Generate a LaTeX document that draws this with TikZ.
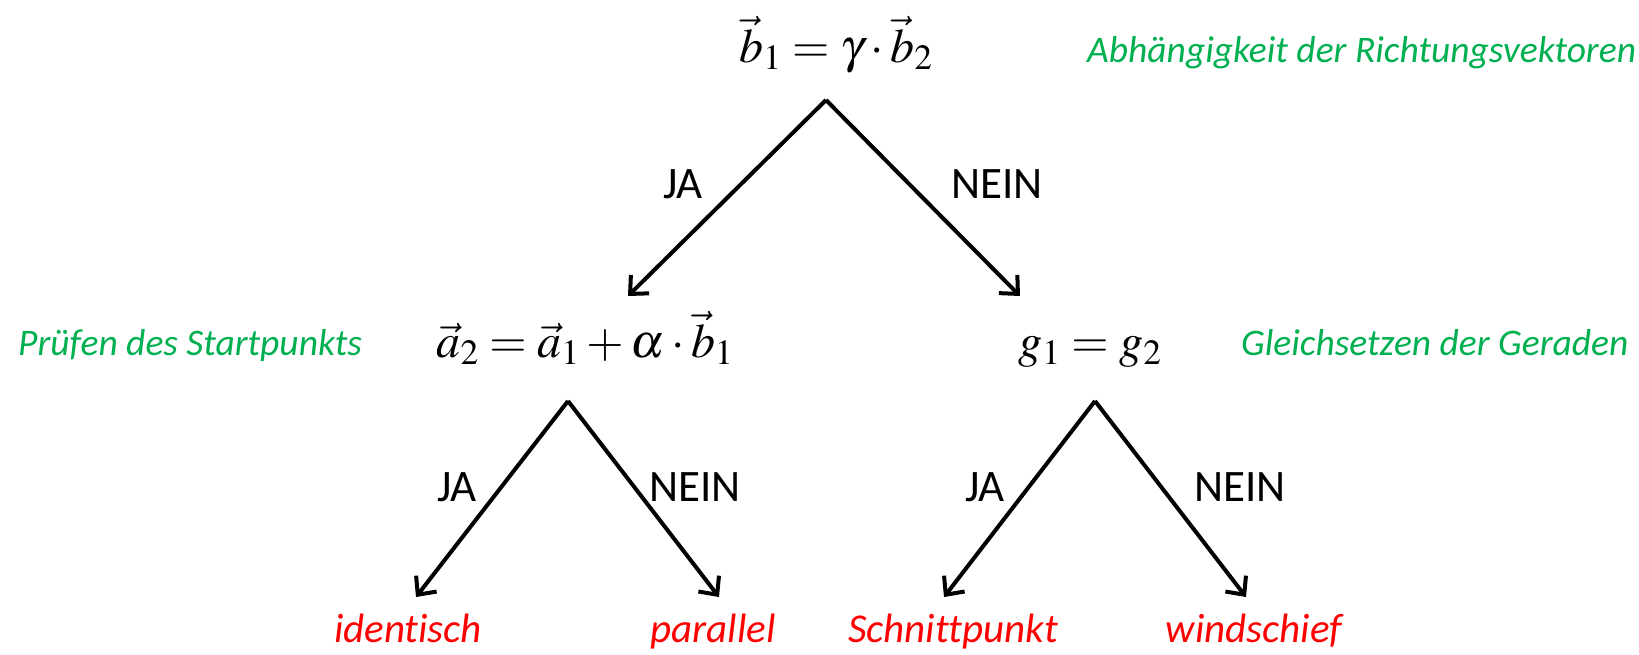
\documentclass[tikz,border=0pt]{standalone}
\usepackage{mathptmx}
\usepackage{fontspec}
\setmainfont{Carlito}[Ligatures=NoCommon]
\usetikzlibrary{arrows.meta}
\definecolor{ggreen}{HTML}{00B050}
\definecolor{rred}{HTML}{FF0000}

\begin{document}
\begin{tikzpicture}[x=1pt,y=-1pt,>={Straight Barb[length=14pt,width=26pt]}]
\tikzset{formula/.style={inner sep=0pt,anchor=base,font=\fontsize{48}{58}\selectfont},
  note/.style={inner sep=0pt,anchor=base west,text=ggreen,font=\fontsize{37.5}{45}\selectfont\itshape},
  result/.style={inner sep=0pt,anchor=base,text=rred,font=\fontsize{41}{50}\selectfont\itshape},
  answer/.style={inner sep=0pt,anchor=base,font=\fontsize{45}{54}\selectfont},
  branch/.style={->,line width=4pt}}
\useasboundingbox (0,0) rectangle (1639,654);
% formulas and notes
\node[formula] (dir) at (836,62) {$\vec{b}_1=\gamma\cdot\vec{b}_2$};
\node[note] (dirnote) at (1087,62) {Abhängigkeit der Richtungsvektoren};
\node[formula] (start) at (585,357) {$\vec{a}_2=\vec{a}_1+\alpha\cdot\vec{b}_1$};
\node[note] (startnote) at (18,355) {Prüfen des Startpunkts};
\node[formula] (equal) at (1090,357) {$g_1=g_2$};
\node[note] (equalnote) at (1241,355) {Gleichsetzen der Geraden};
% results
\node[result] (ident) at (408,642) {identisch};
\node[result] (paral) at (713,642) {parallel};
\node[result] (cross) at (953,642) {Schnittpunkt};
\node[result] (skew) at (1254,642) {windschief};
% forks
\coordinate (dirfork) at (826,100);
\coordinate (dirja) at (628,296);
\coordinate (dirnein) at (1020,296);
\coordinate (startfork) at (568,401);
\coordinate (startja) at (416,597);
\coordinate (startnein) at (719,597);
\coordinate (equalfork) at (1095,401);
\coordinate (equalja) at (944,597);
\coordinate (equalnein) at (1246,597);
\draw[branch] (dirfork) -- (dirja);
\draw[branch] (dirfork) -- (dirnein);
\draw[branch] (startfork) -- (startja);
\draw[branch] (startfork) -- (startnein);
\draw[branch] (equalfork) -- (equalja);
\draw[branch] (equalfork) -- (equalnein);
% answers
\node[answer] (ja1) at (683,198) {JA};
\node[answer] (nein1) at (997,198) {NEIN};
\node[answer] (ja2) at (457,501) {JA};
\node[answer] (nein2) at (695,501) {NEIN};
\node[answer] (ja3) at (985,501) {JA};
\node[answer] (nein3) at (1240,501) {NEIN};
\end{tikzpicture}
\end{document}
